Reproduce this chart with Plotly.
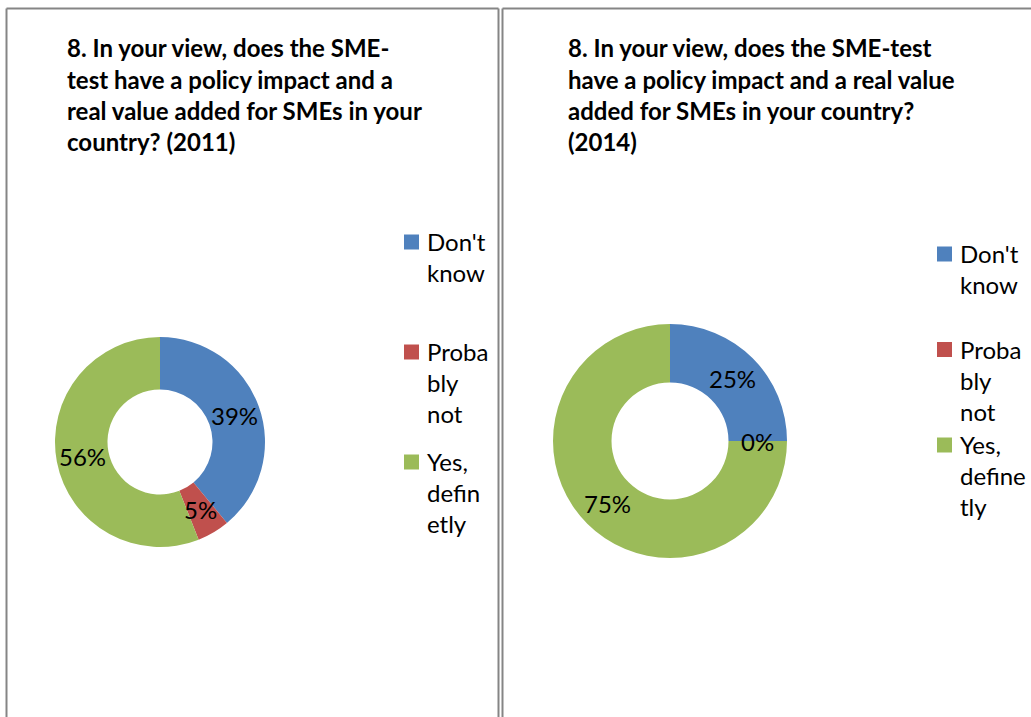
import math

import plotly.graph_objects as go

W, H = 1031, 717

CATEGORIES = ["Don't know", "Probably not", "Yes, definetly"]
# legend labels exactly as they wrap in each panel
LEGEND_2011 = ["Don't<br>know", "Proba<br>bly<br>not", "Yes,<br>defin<br>etly"]
LEGEND_2014 = ["Don't<br>know", "Proba<br>bly<br>not", "Yes,<br>define<br>tly"]
VALUES_2011 = [39, 5, 56]
VALUES_2014 = [25, 0, 75]
COLORS = ["#4F81BD", "#C0504D", "#9BBB59"]

TITLE_2011 = ["8. In your view, does the SME-", "test have a policy impact and a",
              "real value added for SMEs in your", "country? (2011)"]
TITLE_2014 = ["8. In your view, does the SME-test", "have a policy impact and a real value",
              "added for SMEs in your country?", "(2014)"]

FONT = "Lato, Calibri, sans-serif"
BORDER = "#858585"


def px_x(x):
    return x / W


def px_y(y):
    return 1 - y / H


def add_donut(fig, values, cx, cy, r):
    """Donut with Excel-style percentage labels at the middle of the ring."""
    fig.add_trace(go.Pie(
        values=values,
        labels=CATEGORIES,
        sort=False,
        direction="clockwise",
        rotation=0,
        hole=0.5,
        marker=dict(colors=COLORS, line=dict(width=0)),
        textinfo="none",
        domain=dict(x=[px_x(cx - r), px_x(cx + r)], y=[px_y(cy + r), px_y(cy - r)]),
        showlegend=False,
        hoverinfo="label+percent",
    ))
    total = sum(values)
    start = 0
    for v in values:
        mid = (start + v / 2) / total * 2 * math.pi
        start += v
        rr = r * 0.75
        fig.add_annotation(
            x=px_x(cx + rr * math.sin(mid)), y=px_y(cy - rr * math.cos(mid)),
            xref="paper", yref="paper", showarrow=False,
            xanchor="center", yanchor="middle",
            text="%d%%" % round(100 * v / total),
            font=dict(family=FONT, size=24, color="black"),
        )


def add_legend(fig, labels, x0, y0, pitch):
    for i, (label, color) in enumerate(zip(labels, COLORS)):
        yc = y0 + pitch * i
        fig.add_shape(type="rect", xref="paper", yref="paper",
                      x0=px_x(x0), x1=px_x(x0 + 15), y0=px_y(yc - 7.5), y1=px_y(yc + 7.5),
                      fillcolor=color, line=dict(width=0))
        fig.add_annotation(
            x=px_x(x0 + 21), y=px_y(yc - 17), xref="paper", yref="paper",
            text=label, showarrow=False, align="left",
            xanchor="left", yanchor="top",
            font=dict(family=FONT, size=24, color="black"),
        )


fig = go.Figure()
add_donut(fig, VALUES_2011, 160, 442, 105)
add_donut(fig, VALUES_2014, 670, 441, 117)
add_legend(fig, LEGEND_2011, 404, 242, 110)
add_legend(fig, LEGEND_2014, 937, 254, 95.5)

# title lines, one annotation per line to keep the 31px line pitch
for x0, lines in [(65, TITLE_2011), (566, TITLE_2014)]:
    for i, line in enumerate(lines):
        fig.add_annotation(
            x=px_x(x0), y=px_y(48 + 31 * i), xref="paper", yref="paper",
            text="<b>%s</b>" % line, showarrow=False,
            xanchor="left", yanchor="middle",
            font=dict(family=FONT, size=24, color="black"),
        )

# table cell borders
for x0, x1 in [(6.5, 498.5), (502.5, 1060)]:
    fig.add_shape(type="line", xref="paper", yref="paper",
                  x0=px_x(x0), x1=px_x(x1), y0=px_y(8.5), y1=px_y(8.5),
                  line=dict(color=BORDER, width=2))
    fig.add_shape(type="line", xref="paper", yref="paper",
                  x0=px_x(x0), x1=px_x(x0), y0=px_y(8.5), y1=px_y(740),
                  line=dict(color=BORDER, width=2))
fig.add_shape(type="line", xref="paper", yref="paper",
              x0=px_x(498.5), x1=px_x(498.5), y0=px_y(8.5), y1=px_y(740),
              line=dict(color=BORDER, width=2))

fig.update_layout(
    width=W,
    height=H,
    margin=dict(l=0, r=0, t=0, b=0),
    paper_bgcolor="white",
    plot_bgcolor="white",
)

fig.write_html("out.html", config={"displayModeBar": False})
with open("out.html") as f:
    page = f.read()
page = page.replace("<head>", "<head><style>body{margin:0;overflow:hidden}</style>", 1)
with open("out.html", "w") as f:
    f.write(page)
